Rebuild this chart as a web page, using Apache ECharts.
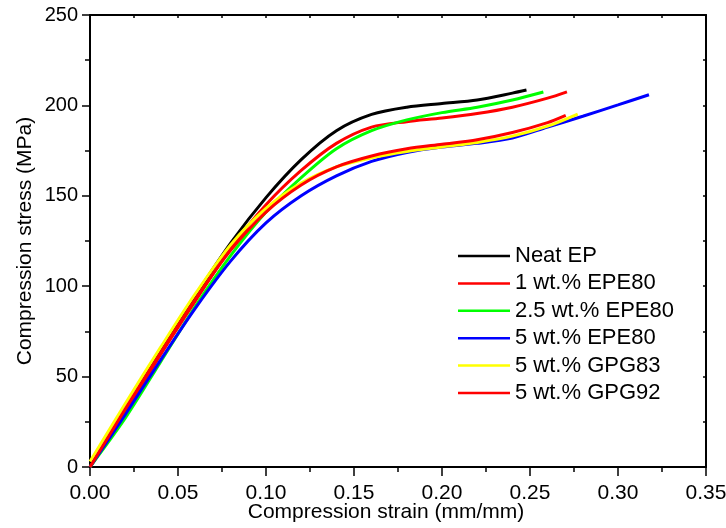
<!DOCTYPE html>
<html>
<head>
<meta charset="utf-8">
<script src="https://cdn.jsdelivr.net/npm/echarts@6/dist/echarts.min.js"></script>
<style>
  html, body { margin: 0; padding: 0; background: #fff; }
  #app { width: 726px; height: 528px; }
</style>
</head>
<body>
<div id="app"></div>
<script>
// series names, in legend order
var names = ["Neat EP", "1 wt.% EPE80", "2.5 wt.% EPE80", "5 wt.% EPE80", "5 wt.% GPG83", "5 wt.% GPG92"];
var colors = ["#000000", "#ff0000", "#00ff00", "#0000ff", "#ffff00", "#ff0000"];

// [strain, stress]
var neatEP = [[0, 0], [0.02, 31], [0.04, 64], [0.06, 95], [0.08, 124], [0.10, 149], [0.12, 170], [0.14, 186], [0.16, 195], [0.18, 199], [0.20, 201], [0.22, 203], [0.24, 206.8], [0.248, 208.5]];
var epe80_1 = [[0, 0], [0.02, 30], [0.04, 62], [0.06, 92], [0.08, 121], [0.10, 145], [0.12, 164], [0.14, 179], [0.16, 188], [0.18, 191], [0.20, 193], [0.22, 195.5], [0.24, 199], [0.26, 204], [0.271, 207.5]];
var epe80_25 = [[0, 0], [0.02, 27], [0.04, 58], [0.06, 89], [0.08, 117], [0.10, 141], [0.12, 160], [0.14, 176], [0.16, 186], [0.18, 192], [0.20, 196], [0.22, 199], [0.24, 203], [0.2576, 207.4]];
var epe80_5 = [[0, 0], [0.02, 29], [0.04, 59], [0.06, 88], [0.08, 114], [0.10, 135], [0.12, 150], [0.14, 161], [0.16, 169], [0.18, 174], [0.20, 177], [0.22, 179], [0.24, 182], [0.26, 188], [0.28, 194], [0.30, 200.3], [0.3176, 205.9]];
var gpg83_5 = [[0, 3], [0.02, 35], [0.04, 66], [0.06, 96], [0.08, 123], [0.10, 143], [0.12, 157], [0.14, 166], [0.16, 171], [0.18, 174.5], [0.20, 177], [0.22, 179.5], [0.24, 183], [0.26, 188.5], [0.2771, 195.2]];
var gpg92_5 = [[0, 0], [0.02, 32], [0.04, 63], [0.06, 93], [0.08, 120], [0.10, 141], [0.12, 156], [0.14, 166], [0.16, 172], [0.18, 176], [0.20, 178.5], [0.22, 181], [0.24, 185], [0.26, 190.5], [0.2703, 194.5]];
var allData = [neatEP, epe80_1, epe80_25, epe80_5, gpg83_5, gpg92_5];

var font = "Arial, 'Liberation Sans', sans-serif";
var chart = echarts.init(document.getElementById("app"));

function xAxisOf(pos) {
  var bottom = pos === "bottom";
  return {
    type: "value", position: pos, min: 0, max: 0.35, interval: 0.05,
    name: bottom ? "Compression strain (mm/mm)" : "",
    nameLocation: "middle", nameGap: 35, nameMoveOverlap: false,
    nameTextStyle: { fontFamily: font, fontSize: 21, color: "#000", padding: [0, 24, 0, 0] },
    axisLine: { show: true, onZero: false, lineStyle: { color: "#000", width: 2 } },
    axisTick: { show: true, inside: !bottom, length: bottom ? 9 : 3, lineStyle: { color: "#000", width: 1.5 } },
    minorTick: { show: true, splitNumber: 2, length: bottom ? 5 : 3, lineStyle: { color: "#000", width: 1.5 } },
    axisLabel: { show: bottom, margin: 16, fontFamily: font, fontSize: 21, color: "#000", formatter: function (v) { return v.toFixed(2); } },
    splitLine: { show: false }
  };
}
function yAxisOf(pos) {
  var left = pos === "left";
  return {
    type: "value", position: pos, min: 0, max: 250, interval: 50,
    name: left ? "Compression stress (MPa)" : "",
    nameLocation: "middle", nameGap: 54, nameMoveOverlap: false,
    nameTextStyle: { fontFamily: font, fontSize: 21, color: "#000" },
    axisLine: { show: true, onZero: false, lineStyle: { color: "#000", width: 2 } },
    axisTick: { show: true, inside: !left, length: left ? 8 : 3, lineStyle: { color: "#000", width: 1.5 } },
    minorTick: { show: true, splitNumber: 2, length: left ? 5 : 3, lineStyle: { color: "#000", width: 1.5 } },
    axisLabel: { show: left, margin: 12, fontFamily: font, fontSize: 20, color: "#000" },
    splitLine: { show: false }
  };
}

var series = names.map(function (n, i) {
  return {
    name: n, type: "line", data: allData[i], xAxisIndex: 0, yAxisIndex: 0,
    smooth: 0.3, symbol: "none", showSymbol: false, animation: false,
    lineStyle: { color: colors[i], width: 3 }, itemStyle: { color: colors[i] }
  };
});

chart.setOption({
  backgroundColor: "#fff",
  animation: false,
  grid: { left: 90, right: 20, top: 15, bottom: 61, containLabel: false, outerBoundsMode: "none" },
  xAxis: [xAxisOf("bottom"), xAxisOf("top")],
  yAxis: [yAxisOf("left"), yAxisOf("right")],
  legend: {
    data: names, orient: "vertical", left: 453, top: 240,
    icon: "rect", itemWidth: 52, itemHeight: 2.5, itemGap: 5.4, itemTextGap: 6,
    textStyle: { fontFamily: font, fontSize: 22, color: "#000", lineHeight: 22 }
  },
  series: series
});
</script>
</body>
</html>
